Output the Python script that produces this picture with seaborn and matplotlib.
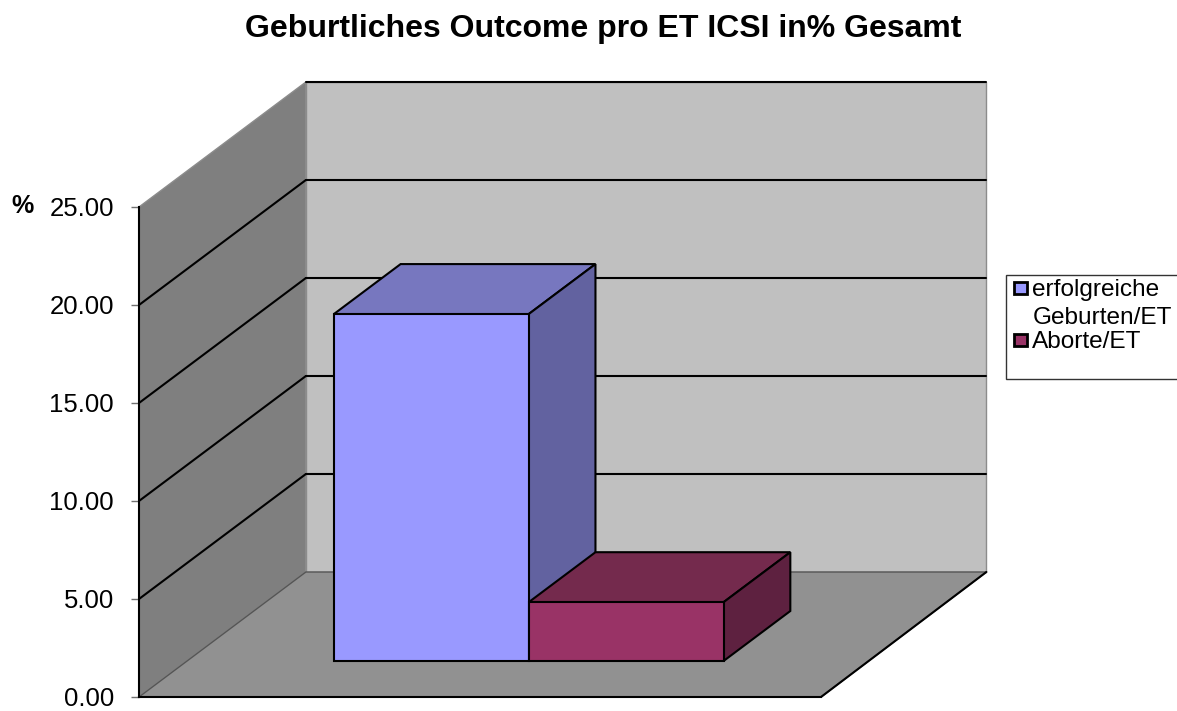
import matplotlib
matplotlib.use("Agg")
import matplotlib.pyplot as plt
from matplotlib.patches import Polygon, Rectangle
import seaborn as sns

# data
series_names = ["erfolgreiche Geburten/ET", "Aborte/ET"]
series_values = [17.7, 3.0]
y_ticks = [0, 5, 10, 15, 20, 25]
title_text = "Geburtliches Outcome pro ET ICSI in% Gesamt"
legend_lines = ["erfolgreiche", "Geburten/ET", "Aborte/ET"]

# colours
front_cols = ["#9999FF", "#993366"]
top_cols = ["#7777BF", "#742A4D"]
side_cols = ["#6262A0", "#5E2140"]

W, H = 1177, 711
sns.set_theme(style="white")
plt.rcParams["font.family"] = ["Liberation Sans", "DejaVu Sans"]

fig = plt.figure(figsize=(W / 100, H / 100), dpi=100, facecolor="white")
ax = fig.add_axes([139 / W, (H - 697) / H, (821 - 139) / W, 490 / H])
ax.set_facecolor("none")

# 3D projection constants (axis units)
DX, DY = 167 / 195, 125 / 19.6      # full depth of the box
BAR_DEPTH = 0.40                    # bar depth as a share of the box
BAR_FLOOR = 36 / 19.6               # bars stand this far into the floor
X0, X1 = -1.5, 2.0
X1_BACK = X1 - 1.5 / 195
YMAX = y_ticks[-1]


def P(x, y, d=0.0):
    return (x + d * DX, y + d * DY)


def poly(pts, fc, ec="none", lw=0.0, z=1):
    ax.add_patch(Polygon(pts, closed=True, facecolor=fc, edgecolor=ec, linewidth=lw,
                         zorder=z, clip_on=False, joinstyle="miter"))


# walls and floor
poly([P(X0, 0, 1), P(X1_BACK, 0, 1), P(X1_BACK, YMAX, 1), P(X0, YMAX, 1)], "#C0C0C0", "#8C8C8C", 1.0, 0.5)
poly([P(X0, 0), P(X0, 0, 1), P(X0, YMAX, 1), P(X0, YMAX)], "#7F7F7F", "#8C8C8C", 1.0, 0.6)
poly([P(X0, 0), P(X1, 0), P(X1_BACK, 0, 1), P(X0, 0, 1)], "#919191", "#555555", 1.0, 0.7)

# gridlines along left wall and back wall
for v in y_ticks:
    if v > 0:
        (xa, ya), (xb, yb), (xc, yc) = P(X0, v), P(X0, v, 1), P(X1_BACK, v, 1)
        if v < YMAX:
            ax.plot([xa, xb], [ya, yb], color="black", lw=1.5, zorder=0.8, clip_on=False,
                    solid_capstyle="round")
        ax.plot([xb, xc], [yb, yc], color="black", lw=1.5, zorder=0.8, clip_on=False)

# floor front-right diagonal
(xa, ya), (xb, yb) = P(X1, 0), P(X1_BACK, 0, 1)
ax.plot([xa, xb], [ya, yb], color="black", lw=1.5, zorder=0.9, clip_on=False)

# front faces of the bars
sns.barplot(x=series_names, y=series_values, hue=series_names, palette=front_cols,
            bottom=BAR_FLOOR, width=1.0, saturation=1, edgecolor="black", linewidth=1.5,
            legend=False, zorder=4, ax=ax)

# depth faces of the bars, taken from the drawn bars
bars = [p for p in ax.patches if isinstance(p, Rectangle)]
for i, bar in enumerate(bars):
    bx, by, bw, bh = bar.get_x(), bar.get_y(), bar.get_width(), bar.get_height()
    bar.set_clip_on(False)
    l, r, b, t = bx, bx + bw, by, by + bh
    poly([P(l, t), P(r, t), P(r, t, BAR_DEPTH), P(l, t, BAR_DEPTH)], top_cols[i], "black", 1.5, 2 + i)
    poly([P(r, b), P(r, t), P(r, t, BAR_DEPTH), P(r, b, BAR_DEPTH)], side_cols[i], "black", 1.5, 2 + i)

ax.set_xlim(X0, X1)
ax.set_ylim(0, YMAX)
ax.set_xticks([])
ax.set_xlabel("")
ax.set_ylabel("")
ax.set_yticks(y_ticks)
ax.set_yticklabels([f"{v:.2f}" for v in y_ticks], fontsize=18.5, color="black")
ax.tick_params(axis="y", left=True, length=6, width=1, color="#707070", pad=12)
for s in ("top", "right"):
    ax.spines[s].set_visible(False)
for s in ("left", "bottom"):
    ax.spines[s].set_visible(True)
    ax.spines[s].set_color("black")
    ax.spines[s].set_linewidth(1.5)
    ax.spines[s].set_zorder(6)

# text and legend placed in figure fractions from pixel positions (origin top left)
fig.text(603 / W, 1 - 37 / H, title_text, ha="center", va="baseline", fontsize=23, fontweight="bold",
         color="black")
fig.text(23 / W, 1 - 206 / H, "%", ha="center", va="center", fontsize=18, fontweight="bold", color="black")

fig.add_artist(Rectangle((1006 / W, 1 - 379 / H), 180 / W, 104 / H, transform=fig.transFigure,
                         facecolor="white", edgecolor="#333333", linewidth=1.0, zorder=5))
for col, yc in zip(front_cols, [288, 340]):
    fig.add_artist(Rectangle((1014 / W, 1 - (yc + 6) / H), 12.5 / W, 12 / H, transform=fig.transFigure,
                             facecolor=col, edgecolor="black", linewidth=2, zorder=6))
for line, xl, yl in zip(legend_lines, [1032, 1033, 1032], [296, 324, 348]):
    fig.text(xl / W, 1 - yl / H, line, ha="left", va="baseline", fontsize=17.6, color="black", zorder=7)

fig.savefig("out.png", dpi=100, facecolor="white")
